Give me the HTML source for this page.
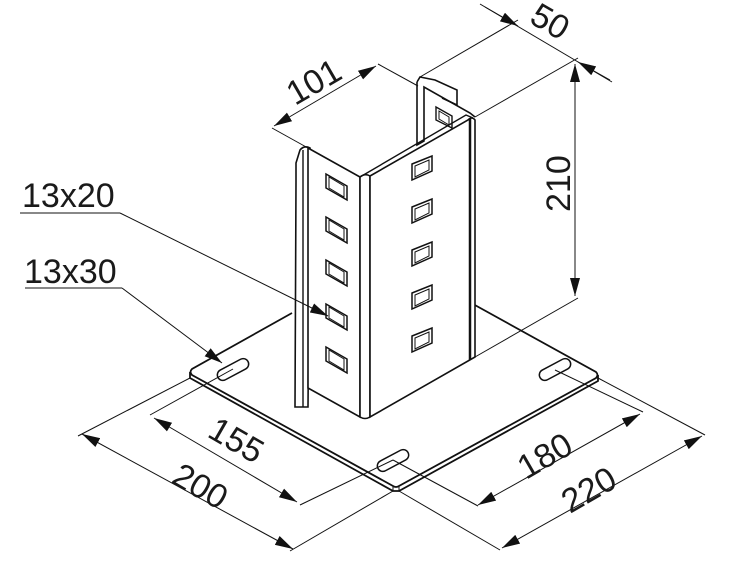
<!DOCTYPE html>
<html><head><meta charset="utf-8"><style>
html,body{margin:0;padding:0;background:#fff;}
svg{display:block;}
text{font-family:"Liberation Sans",sans-serif;font-size:34px;fill:#1a1a1a;}
</style></head><body>
<svg width="734" height="578" viewBox="0 0 734 578" xmlns="http://www.w3.org/2000/svg">
<defs>
<marker id="a" viewBox="0 0 10 10" refX="10" refY="5" markerWidth="18" markerHeight="10" markerUnits="userSpaceOnUse" orient="auto-start-reverse" preserveAspectRatio="none"><path d="M0,0 L10,5 L0,10 z" fill="#111"/></marker>
</defs>
<g stroke="#111" fill="none" stroke-width="1">
<!-- plate -->
<path d="M292,313 L192,369 Q189,372 192,375 L393,486 Q396,488 399,486 L596,378 Q599,375 596,372 L473,304" fill="#fff" stroke-width="1.8"/>
<path d="M190,372 L190,378 L393,491 L399,491 L598,381 L598,375" stroke-width="1.8"/>
<line x1="393" y1="486" x2="393" y2="491"/><line x1="399" y1="486" x2="399" y2="491"/>
<!-- slots -->
<g stroke-width="1.5" fill="#fff">
<rect x="216" y="364" width="34" height="11" rx="5.5" transform="rotate(-28 233 369.5)"/>
<rect x="538" y="364" width="34" height="11" rx="5.5" transform="rotate(-28 555 369.5)"/>
<rect x="376" y="455" width="34" height="11" rx="5.5" transform="rotate(-28 393 460.5)"/>
</g>
<!-- back flange -->
<path d="M417,82 L420,77 L435,80 L457,90 L457,105 L442,98" fill="#fff" stroke-width="1.6"/>
<path d="M417,82 L417,145 L424,141 L424,87 L470,113 L475,117" fill="#fff" stroke-width="1.6"/>
<path d="M436,107 L452,116 L452,128 L436,120 Z" fill="#fff" stroke-width="1.4"/>
<path d="M439,111 L449,117 L449,125 L439,119 Z" stroke-width="1"/>
<!-- left flange lip -->
<path d="M296,163 L300,150 Q304,145 310,148 L308,407 L295,407 L296,182 Z" fill="#fff" stroke-width="1.6"/>
<line x1="303" y1="150" x2="303" y2="407" stroke-width="1.4"/>
<!-- left face -->
<path d="M308,148 L360,177 L360,417 L308,388 Z" fill="#fff" stroke-width="1.6"/>
<!-- corner -->
<path d="M360,177 Q365,173 370,176 L370,417 Q365,420 360,417 Z" fill="#fff" stroke-width="1.6"/>
<!-- right face -->
<path d="M370,176 L468,120 Q472,116 475,120 L475,357 L370,417 Z" fill="#fff" stroke-width="1.6"/>
<path d="M360,177 L466,115 L473,118" stroke-width="1.4"/>
<line x1="470" y1="118" x2="470" y2="360" stroke-width="2.5"/>
<!-- left face holes -->
<g stroke-width="1.5" fill="#fff">
<path d="M326,174 L347,186 L347,200 L326,188 Z"/><path d="M329,177 L344,186 L344,197 L329,188 Z" stroke-width="1"/>
<path d="M326,217 L347,229 L347,243 L326,231 Z"/><path d="M329,220 L344,229 L344,240 L329,231 Z" stroke-width="1"/>
<path d="M326,260 L347,272 L347,286 L326,274 Z"/><path d="M329,263 L344,272 L344,283 L329,274 Z" stroke-width="1"/>
<path d="M326,304 L347,316 L347,330 L326,318 Z"/><path d="M329,307 L344,316 L344,327 L329,318 Z" stroke-width="1"/>
<path d="M326,347 L347,359 L347,373 L326,361 Z"/><path d="M329,350 L344,359 L344,370 L329,361 Z" stroke-width="1"/>
</g>
<!-- right face holes -->
<g stroke-width="1.5" fill="#fff">
<path d="M412,164 L432,156 L432,171 L412,180 Z"/><path d="M415,166 L429,160 L429,170 L415,177 Z" stroke-width="1"/>
<path d="M412,207 L432,199 L432,214 L412,223 Z"/><path d="M415,209 L429,203 L429,213 L415,220 Z" stroke-width="1"/>
<path d="M412,250 L432,242 L432,257 L412,266 Z"/><path d="M415,252 L429,246 L429,256 L415,263 Z" stroke-width="1"/>
<path d="M412,293 L432,285 L432,300 L412,309 Z"/><path d="M415,295 L429,289 L429,299 L415,306 Z" stroke-width="1"/>
<path d="M412,336 L432,328 L432,343 L412,352 Z"/><path d="M415,338 L429,332 L429,342 L415,349 Z" stroke-width="1"/>
</g>
<!-- dimension: 101 -->
<line x1="272" y1="128" x2="308" y2="148"/>
<line x1="378" y1="64" x2="418" y2="86"/>
<line x1="274" y1="126" x2="376" y2="66" marker-start="url(#a)" marker-end="url(#a)"/>
<!-- 50 -->
<line x1="420" y1="77" x2="518" y2="20"/>
<line x1="475" y1="117" x2="578" y2="58"/>
<line x1="480" y1="4" x2="612" y2="82"/>
<line x1="485" y1="7" x2="518" y2="26" marker-end="url(#a)"/>
<line x1="610" y1="80" x2="578" y2="62" marker-end="url(#a)"/>
<!-- 210 -->
<line x1="575" y1="64" x2="575" y2="296" marker-start="url(#a)" marker-end="url(#a)"/>
<line x1="475" y1="357" x2="578" y2="298"/>
<!-- 200 -->
<line x1="190" y1="378" x2="78" y2="436"/>
<line x1="393" y1="491" x2="290" y2="551"/>
<line x1="82" y1="434" x2="293" y2="549" marker-start="url(#a)" marker-end="url(#a)"/>
<!-- 155 -->
<line x1="233" y1="369" x2="150" y2="415"/>
<line x1="393" y1="460" x2="300" y2="505"/>
<line x1="154" y1="418" x2="297" y2="502" marker-start="url(#a)" marker-end="url(#a)"/>
<!-- 180 -->
<line x1="393" y1="460" x2="478" y2="506"/>
<line x1="555" y1="370" x2="643" y2="412"/>
<line x1="478" y1="505" x2="640" y2="414" marker-start="url(#a)" marker-end="url(#a)"/>
<!-- 220 -->
<line x1="399" y1="491" x2="500" y2="550"/>
<line x1="598" y1="378" x2="705" y2="435"/>
<line x1="502" y1="548" x2="702" y2="436" marker-start="url(#a)" marker-end="url(#a)"/>
<!-- leaders -->
<line x1="20" y1="213" x2="120" y2="213"/>
<line x1="120" y1="213" x2="328" y2="316" marker-end="url(#a)"/>
<line x1="25" y1="288" x2="122" y2="288"/>
<line x1="122" y1="288" x2="222" y2="363" marker-end="url(#a)"/>
</g>
<text x="22" y="207">13x20</text>
<text x="24" y="283">13x30</text>
<text transform="translate(295,106) rotate(-30)">101</text>
<text transform="translate(528,22) rotate(30)">50</text>
<text transform="translate(570,212) rotate(-90)">210</text>
<text transform="translate(206,436) rotate(30)">155</text>
<text transform="translate(170,482) rotate(30)">200</text>
<text transform="translate(526,480) rotate(-30)">180</text>
<text transform="translate(570,514) rotate(-30)">220</text>
</svg>
</body></html>
